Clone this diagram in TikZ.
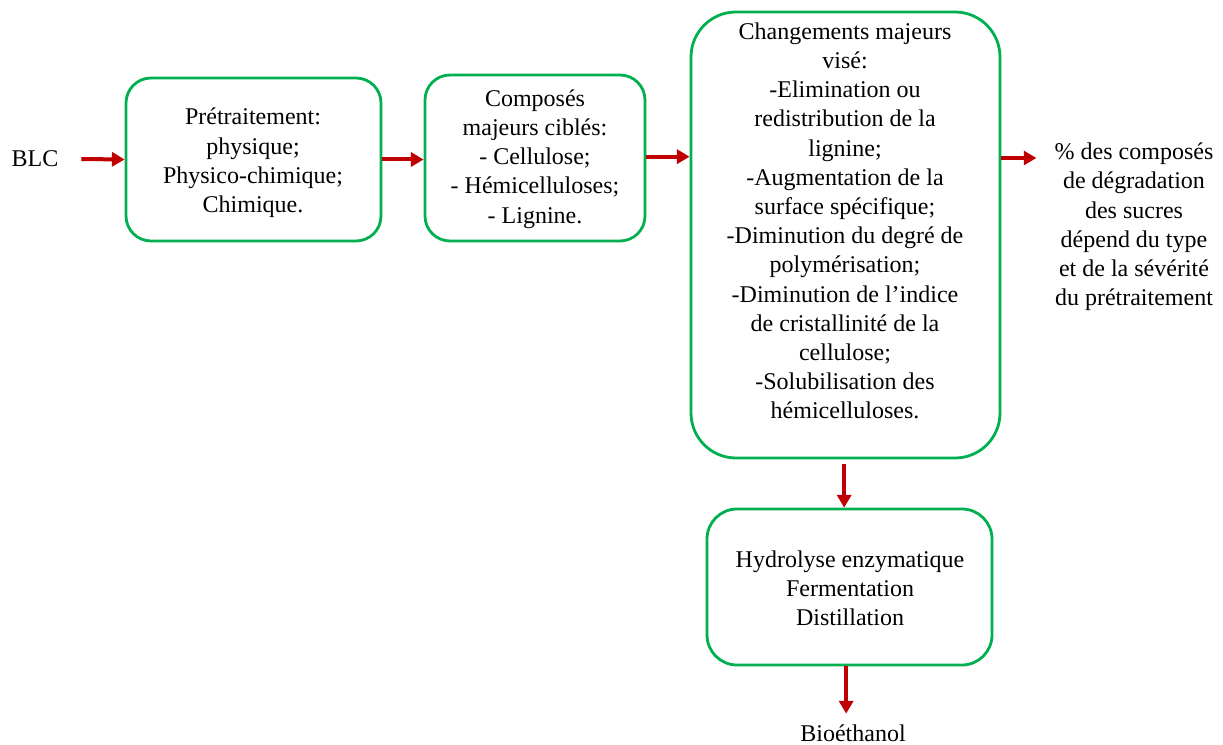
\documentclass[tikz,border=0pt]{standalone}
\usepackage{fontspec}
\setmainfont{Liberation Serif}
\usetikzlibrary{arrows.meta}
\definecolor{boxgreen}{RGB}{0,176,80}
\definecolor{arrred}{RGB}{192,0,0}
\begin{document}
\begin{tikzpicture}[x=0.75pt,y=-0.75pt,
  box/.style={draw=boxgreen, line width=2.1pt, rounded corners=#1, inner sep=0pt},
  txt/.style={align=center, font=\fontsize{18}{21.9}\selectfont, inner sep=0pt},
  arr/.style={draw=arrred, line width=3pt, -{Triangle[length=9.5pt,width=10.5pt]}}]
\useasboundingbox (0,0) rectangle (1223,745);

% boxes
\node[box=18.75pt, minimum width=191.25pt, minimum height=122.25pt] (b1) at (253.5,159.5) {};
\node[box=18.75pt, minimum width=165pt, minimum height=124.5pt] (b2) at (535,158) {};
\node[box=33.75pt, minimum width=231.75pt, minimum height=334.5pt] (b3) at (845.5,235) {};
\node[box=22.5pt, minimum width=213.75pt, minimum height=117pt] (b4) at (849.5,587) {};

% texts
\node[txt] (blc) at (35,159) {BLC};
\node[txt] (t1) at (253,163) {Prétraitement:\\physique;\\Physico-chimique;\\Chimique.};
\node[txt] (t2) at (535,159) {Composés\\majeurs ciblés:\\- Cellulose;\\- Hémicelluloses;\\- Lignine.};
\node[txt] (t3) at (845,221) {Changements majeurs\\visé:\\-Elimination ou\\redistribution de la\\lignine;\\-Augmentation de la\\surface spécifique;\\-Diminution du degré de\\polymérisation;\\-Diminution de l’indice\\de cristallinité de la\\cellulose;\\-Solubilisation des\\hémicelluloses.};
\node[txt] (t4) at (850,588) {Hydrolyse enzymatique\\Fermentation\\Distillation};
\node[txt] (pct) at (1134,227) {\% des composés\\de dégradation\\des sucres\\dépend du type\\et de la sévérité\\du prétraitement};
\node[txt] (bio) at (853,733) {Bioéthanol};

% arrows
\draw[arr] ([xshift=17pt]blc.east) -- (b1.west);
\draw[arr] (b1.east) -- (b1.east -| b2.west);
\draw[arr] ([yshift=1pt]b2.east) -- ([yshift=1pt]b2.east -| b3.west);
\draw[arr] (b3.east |- b2.east) -- ([xshift=-13.5pt]pct.west |- b2.east);
\draw[arr] ([xshift=-1pt,yshift=-3.75pt]b3.south) -- ([xshift=-1pt]b3.south |- b4.north);
\draw[arr] ([xshift=-2.5pt]b4.south) -- ([xshift=-2.5pt,yshift=8pt]b4.south |- bio.north);
\end{tikzpicture}
\end{document}
